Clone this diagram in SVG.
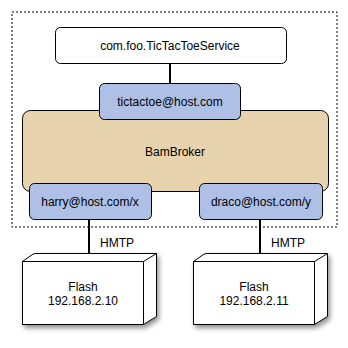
<svg xmlns="http://www.w3.org/2000/svg" width="348" height="348" viewBox="0 0 348 348">
<defs>
<style>
.t{font-family:"Liberation Sans",Arial,sans-serif;font-size:12px;fill:#000;text-anchor:middle}
.box{stroke:#000;stroke-width:1}
.blue{fill:#AFC0E7}
.tan{fill:#E7D4AF}
.white{fill:#fff}
.line{stroke:#000;stroke-width:2;fill:none}
</style>
<filter id="sh" x="-20%" y="-20%" width="150%" height="150%">
<feDropShadow dx="2" dy="3" stdDeviation="2.5" flood-color="#000" flood-opacity="0.45"/>
</filter>
</defs>
<rect width="348" height="348" fill="#fff"/>
<rect id="boundary" x="12" y="12" width="325" height="215" fill="none" stroke="#000" stroke-width="1" stroke-dasharray="2,2"/>
<g id="connectors">
<line class="line" x1="170" y1="63" x2="170" y2="83"/>
<line class="line" x1="89" y1="219" x2="89" y2="254"/>
<line class="line" x1="260" y1="219" x2="260" y2="254"/>
<text class="t" x="117" y="247">HMTP</text>
<text class="t" x="288" y="247">HMTP</text>
</g>
<g id="service">
<rect class="box white" x="55.5" y="27.5" width="231" height="36" rx="5"/>
<text class="t" x="170" y="49.5">com.foo.TicTacToeService</text>
</g>
<g id="broker">
<rect class="box tan" x="22.5" y="110.5" width="306" height="81" rx="8"/>
<text class="t" x="175" y="155.5">BamBroker</text>
</g>
<g id="tictactoe">
<rect class="box blue" x="99.5" y="83.5" width="141" height="36" rx="5"/>
<text class="t" x="170" y="105.5">tictactoe@host.com</text>
</g>
<g id="harry">
<rect class="box blue" x="29.5" y="183.5" width="122" height="36" rx="5"/>
<text class="t" x="90" y="205.5">harry@host.com/x</text>
</g>
<g id="draco">
<rect class="box blue" x="199.5" y="183.5" width="123" height="36" rx="5"/>
<text class="t" x="261" y="205.5">draco@host.com/y</text>
</g>
<g id="flash1">
<g filter="url(#sh)">
<path class="box white" d="M22.5,261.5 L31,255.5 Q33,253.5 36,253.5 L156.5,253.5 L156.5,316.5 L143.5,324.5 L22.5,324.5 Z"/>
</g>
<path class="box white" d="M22.5,261.5 L143.5,261.5 L143.5,324.5 L22.5,324.5 Z"/>
<path fill="none" stroke="#000" d="M143.5,261.5 L156.5,253.5"/>
<text class="t" x="83" y="291">Flash</text>
<text class="t" x="83" y="305">192.168.2.10</text>
</g>
<g id="flash2">
<g filter="url(#sh)">
<path class="box white" d="M193.5,261.5 L202,255.5 Q204,253.5 207,253.5 L327.5,253.5 L327.5,316.5 L314.5,324.5 L193.5,324.5 Z"/>
</g>
<path class="box white" d="M193.5,261.5 L314.5,261.5 L314.5,324.5 L193.5,324.5 Z"/>
<path fill="none" stroke="#000" d="M314.5,261.5 L327.5,253.5"/>
<text class="t" x="254" y="291">Flash</text>
<text class="t" x="254" y="305">192.168.2.11</text>
</g>
</svg>
